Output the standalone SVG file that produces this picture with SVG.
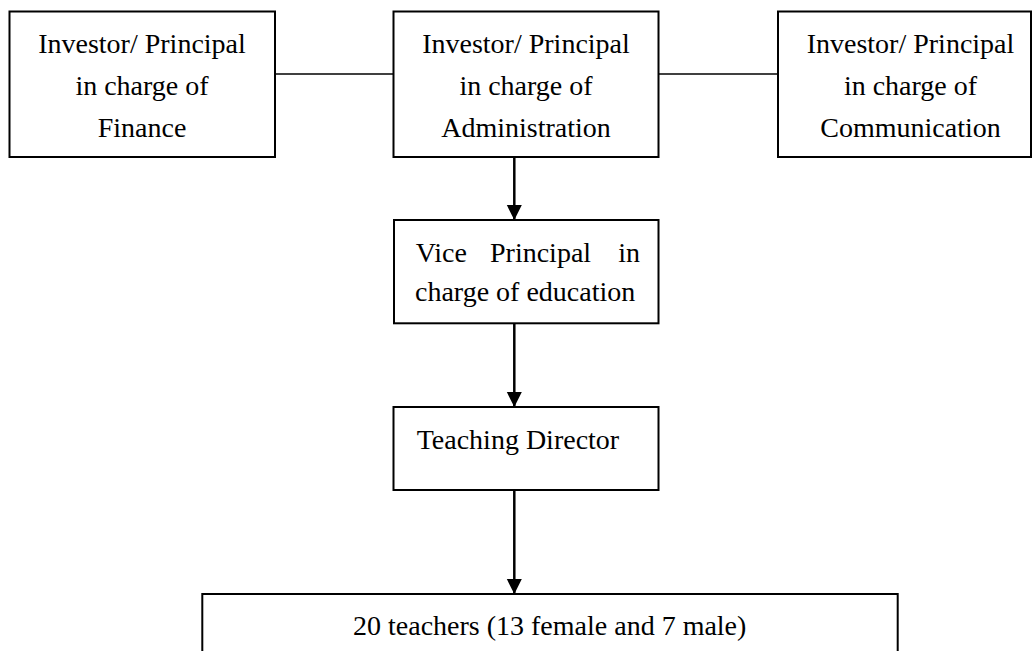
<svg xmlns="http://www.w3.org/2000/svg" width="1032" height="651" viewBox="0 0 1032 651">
<style>
.box{fill:#fff;stroke:#000;stroke-width:2}
.t{font-family:"Liberation Serif","Times New Roman",serif;font-size:28px;fill:#000}
.c{text-anchor:middle}
.link{stroke:#000;stroke-width:1.5;fill:none}
.arr{stroke:#000;stroke-width:2.5;fill:none;marker-end:url(#ah)}
</style>
<defs>
<marker id="ah" markerUnits="userSpaceOnUse" markerWidth="16" markerHeight="16" refX="15" refY="7.5" orient="auto" viewBox="0 0 16 16">
<path d="M0,0 L15,7.5 L0,15 Z" fill="#000"/>
</marker>
</defs>
<rect width="1032" height="651" fill="#fff"/>
<g id="connectors">
<line class="link" x1="275" y1="74" x2="393.5" y2="74"/>
<line class="link" x1="658.5" y1="74" x2="778" y2="74"/>
<line class="arr" x1="514.3" y1="157" x2="514.3" y2="220"/>
<line class="arr" x1="514.3" y1="323.3" x2="514.3" y2="407"/>
<line class="arr" x1="514.3" y1="490" x2="514.3" y2="594"/>
</g>
<g id="finance">
<rect class="box" x="9.5" y="11.5" width="265.5" height="145.5"/>
<text class="t c" x="142" y="53.3">Investor/ Principal</text>
<text class="t c" x="142" y="95">in charge of</text>
<text class="t c" x="142" y="136.7">Finance</text>
</g>
<g id="administration">
<rect class="box" x="393.5" y="11.5" width="265" height="145.5"/>
<text class="t c" x="526" y="53.3">Investor/ Principal</text>
<text class="t c" x="526" y="95">in charge of</text>
<text class="t c" x="526" y="136.7">Administration</text>
</g>
<g id="communication">
<rect class="box" x="778" y="11.5" width="253" height="145.5"/>
<text class="t c" x="910.5" y="53.3">Investor/ Principal</text>
<text class="t c" x="910.5" y="95">in charge of</text>
<text class="t c" x="910.5" y="136.7">Communication</text>
</g>
<g id="vice-principal">
<rect class="box" x="394" y="220" width="264.5" height="103.3"/>
<text class="t" y="261.7"><tspan x="415.7">Vice</tspan><tspan x="490">Principal</tspan><tspan x="618.3">in</tspan></text>
<text class="t" x="415" y="300.5">charge of education</text>
</g>
<g id="teaching-director">
<rect class="box" x="393.5" y="407" width="265" height="83"/>
<text class="t" x="416.7" y="449">Teaching Director</text>
</g>
<g id="teachers">
<rect class="box" x="202.3" y="594" width="695.4" height="70"/>
<text class="t" x="353" y="635">20 teachers (13 female and 7 male)</text>
</g>
</svg>
